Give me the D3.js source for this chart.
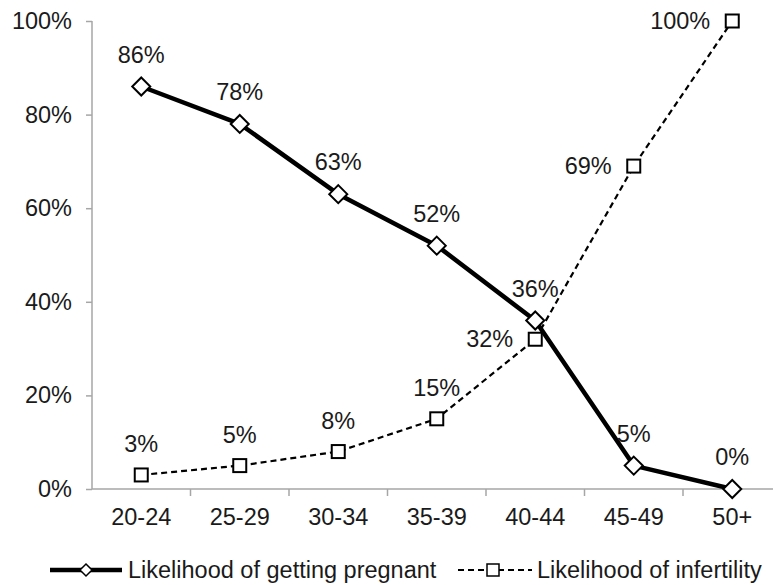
<html>
<head>
<script src="https://d3js.org/d3.v7.min.js"></script>
<style>
  body { margin: 0; background: #fff; }
  text { font-family: "Liberation Sans", Arial, sans-serif; fill: #1a1a1a; }
</style>
</head>
<body>
<script>
  // data
  var ageGroups = ["20-24", "25-29", "30-34", "35-39", "40-44", "45-49", "50+"];
  var pregnantValues = [86, 78, 63, 52, 36, 5, 0];
  var infertilityValues = [3, 5, 8, 15, 32, 69, 100];
  var yTicks = [0, 20, 40, 60, 80, 100];
  var seriesNames = ["Likelihood of getting pregnant", "Likelihood of infertility"];

  var svgWidth = 773, svgHeight = 585;
  var fontSize = 23.5;

  var svg = d3.select("body").append("svg")
    .attr("width", svgWidth)
    .attr("height", svgHeight);

  var x = d3.scaleBand().domain(ageGroups).range([92, 781.5]);
  var y = d3.scaleLinear().domain([0, 100]).range([489, 21]);
  var cx = function(d, i) { return x(ageGroups[i]) + x.bandwidth() / 2; };

  // y axis
  var yAxis = svg.append("g")
    .attr("transform", "translate(92,0)")
    .call(d3.axisLeft(y).tickValues(yTicks).tickSize(6).tickPadding(14)
      .tickFormat(function(d) { return d + "%"; }));
  yAxis.selectAll("text").style("font-size", fontSize + "px");

  // x axis
  var xAxis = svg.append("g")
    .attr("transform", "translate(0,489)")
    .call(d3.axisBottom(x).tickSize(0).tickPadding(19));
  xAxis.selectAll("text").style("font-size", fontSize + "px");
  xAxis.selectAll(".tick").filter(function(d, i) { return i > 0; })
    .append("line")
    .attr("x1", -x.bandwidth() / 2).attr("x2", -x.bandwidth() / 2)
    .attr("y1", 0).attr("y2", 7);
  xAxis.append("line").attr("x1", 92).attr("x2", 92).attr("y1", 0).attr("y2", 7);

  svg.selectAll(".tick line").attr("stroke", "#a6a6a6").attr("stroke-width", 1.5);
  yAxis.select(".domain").remove();
  xAxis.select(".domain").remove();
  svg.append("line").attr("x1", 92).attr("x2", 92).attr("y1", 21).attr("y2", 489)
    .attr("stroke", "#a6a6a6").attr("stroke-width", 1.5);
  svg.append("line").attr("x1", 92).attr("x2", svgWidth).attr("y1", 489).attr("y2", 489)
    .attr("stroke", "#a6a6a6").attr("stroke-width", 1.5);

  var line = d3.line()
    .x(function(d, i) { return cx(d, i); })
    .y(function(d) { return y(d); });

  var diamond = function(s) { return "M0," + (-s) + "L" + s + ",0L0," + s + "L" + (-s) + ",0Z"; };

  // infertility series (dashed, squares)
  svg.append("path").datum(infertilityValues)
    .attr("d", line)
    .attr("fill", "none").attr("stroke", "#000").attr("stroke-width", 2.2)
    .attr("stroke-dasharray", "6,4");

  // pregnant series (thick solid, diamonds)
  svg.append("path").datum(pregnantValues)
    .attr("d", line)
    .attr("fill", "none").attr("stroke", "#000").attr("stroke-width", 4.5)
    .attr("stroke-linejoin", "round");

  svg.selectAll(".sq").data(infertilityValues).enter().append("rect")
    .attr("x", function(d, i) { return cx(d, i) - 6.5; })
    .attr("y", function(d) { return y(d) - 6.5; })
    .attr("width", 13).attr("height", 13)
    .attr("fill", "#fff").attr("stroke", "#000").attr("stroke-width", 2);

  svg.selectAll(".dm").data(pregnantValues).enter().append("path")
    .attr("d", diamond(9))
    .attr("transform", function(d, i) { return "translate(" + cx(d, i) + "," + y(d) + ")"; })
    .attr("fill", "#fff").attr("stroke", "#000").attr("stroke-width", 2);

  // data labels
  svg.selectAll(".lp").data(pregnantValues).enter().append("text")
    .attr("x", function(d, i) { return cx(d, i); })
    .attr("y", function(d) { return y(d) - 24; })
    .attr("text-anchor", "middle")
    .style("font-size", fontSize + "px")
    .text(function(d) { return d + "%"; });

  svg.selectAll(".li").data(infertilityValues).enter().append("text")
    .attr("x", function(d, i) { return i >= 4 ? cx(d, i) - 22 : cx(d, i); })
    .attr("y", function(d, i) { return i >= 4 ? y(d) + 8 : y(d) - 23; })
    .attr("text-anchor", function(d, i) { return i >= 4 ? "end" : "middle"; })
    .style("font-size", fontSize + "px")
    .text(function(d) { return d + "%"; });

  // legend
  var ly = 570;
  svg.append("line").attr("x1", 50).attr("x2", 122).attr("y1", ly).attr("y2", ly)
    .attr("stroke", "#000").attr("stroke-width", 4.5);
  svg.append("path").attr("d", diamond(6)).attr("transform", "translate(86," + ly + ")")
    .attr("fill", "#fff").attr("stroke", "#000").attr("stroke-width", 1.5);
  svg.append("text").attr("x", 128).attr("y", ly + 8)
    .style("font-size", fontSize + "px").text(seriesNames[0]);

  svg.append("line").attr("x1", 458).attr("x2", 532).attr("y1", ly).attr("y2", ly)
    .attr("stroke", "#000").attr("stroke-width", 1.8).attr("stroke-dasharray", "6,4");
  svg.append("rect").attr("x", 487).attr("y", ly - 6).attr("width", 12).attr("height", 12)
    .attr("fill", "#fff").attr("stroke", "#000").attr("stroke-width", 1.5);
  svg.append("text").attr("x", 537).attr("y", ly + 8)
    .style("font-size", fontSize + "px").text(seriesNames[1]);
</script>
</body>
</html>
